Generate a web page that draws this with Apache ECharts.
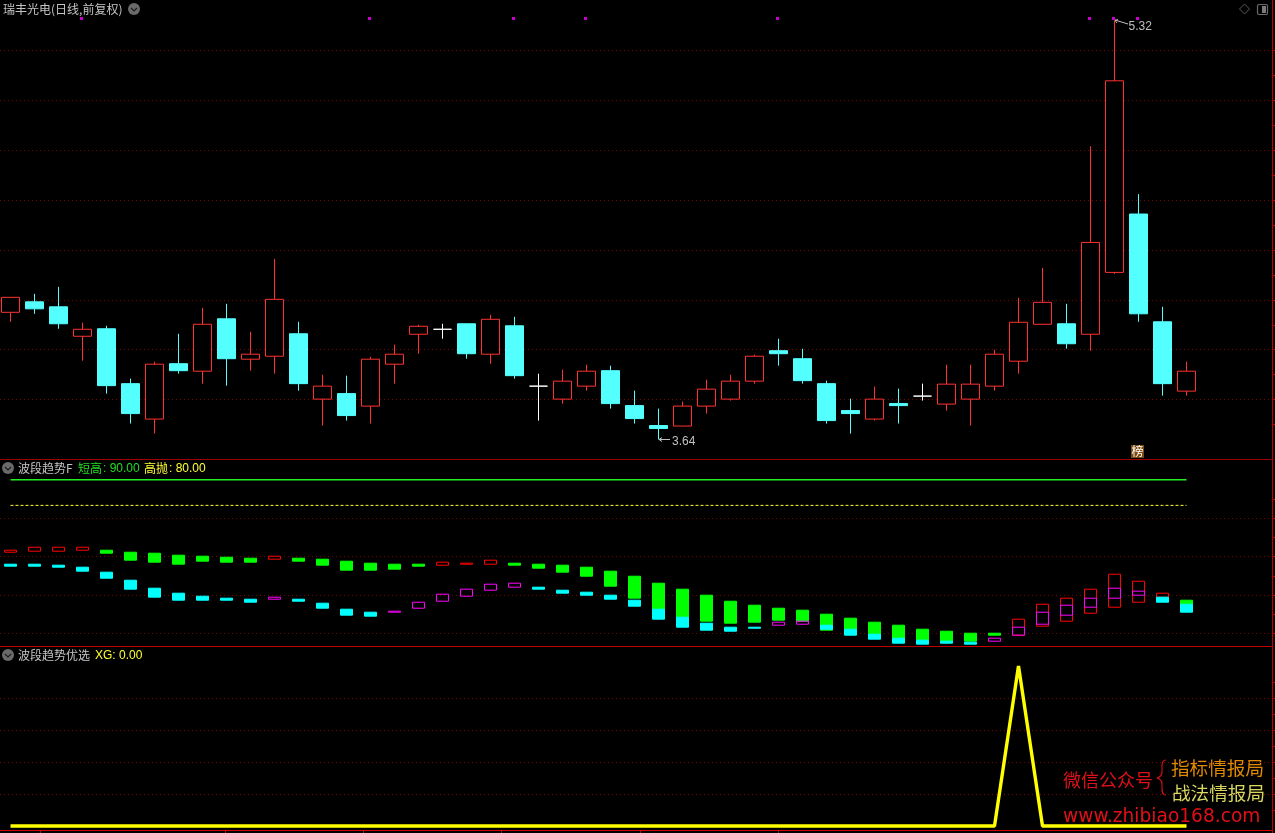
<!DOCTYPE html>
<html><head><meta charset="utf-8">
<style>html,body{margin:0;padding:0;background:#000;overflow:hidden}#c{width:1275px;height:833px}</style>
<script src="https://cdn.jsdelivr.net/npm/echarts@6/dist/echarts.min.js"></script>
</head><body><div id="c"></div>
<script>
const candleOpen=[4.150,4.192,4.172,4.054,4.084,3.864,3.722,3.944,3.914,4.124,3.962,3.974,4.064,3.802,3.824,3.774,3.942,4.062,4.082,4.104,3.982,4.096,3.854,3.802,3.854,3.916,3.776,3.696,3.694,3.774,3.802,3.874,3.996,3.964,3.864,3.756,3.722,3.784,3.814,3.782,3.802,3.854,3.954,4.102,4.104,4.062,4.310,4.544,4.112,3.834];
const candleClose=[4.210,4.164,4.104,4.082,3.856,3.744,3.942,3.916,4.102,3.964,3.982,4.202,3.864,3.854,3.736,3.962,3.982,4.094,4.082,3.984,4.122,3.896,3.854,3.874,3.914,3.784,3.724,3.684,3.774,3.842,3.874,3.974,3.984,3.876,3.716,3.744,3.802,3.776,3.814,3.862,3.862,3.982,4.110,4.190,4.024,4.430,5.078,4.144,3.864,3.914];
const candleLow=[4.112,4.144,4.084,3.956,3.824,3.704,3.664,3.904,3.864,3.856,3.916,3.904,3.836,3.696,3.716,3.704,3.864,3.984,4.044,3.964,3.944,3.884,3.716,3.784,3.836,3.764,3.704,3.640,3.694,3.744,3.796,3.864,3.936,3.864,3.704,3.664,3.716,3.704,3.796,3.756,3.696,3.836,3.904,4.102,4.004,3.996,4.304,4.112,3.816,3.816];
const candleHigh=[4.210,4.224,4.252,4.108,4.096,3.884,3.952,4.064,4.168,4.184,4.072,4.364,4.112,3.900,3.896,3.972,4.020,4.100,4.104,4.104,4.140,4.132,3.904,3.920,3.940,3.936,3.836,3.764,3.792,3.880,3.900,3.980,4.044,4.004,3.876,3.804,3.852,3.844,3.864,3.940,3.940,4.000,4.208,4.328,4.184,4.816,5.320,4.624,4.172,3.952];
const signalDays=[3,15,21,24,32,45,46,47];
const signalLevel=5.328;
const upperOpen=[61.75,62.14,62.14,62.53,62.53,61.75,61.36,60.58,60.19,59.80,59.41,59.03,59.41,59.03,58.25,57.47,57.08,57.08,56.69,57.08,57.08,57.47,57.08,56.69,55.91,54.35,52.40,49.67,47.34,45.00,42.66,41.10,39.93,39.16,37.60,36.04,34.48,33.31,31.75,30.97,30.19,30.19,29.42,32.92,34.87,37.99,40.32,42.27,44.22,43.05];
const upperClose=[62.53,63.70,63.70,63.70,61.36,58.64,57.86,57.08,58.25,57.86,57.86,60.19,58.25,56.69,54.74,54.74,55.13,56.30,57.86,57.47,58.64,56.69,55.52,53.96,52.40,48.51,43.83,39.55,36.43,34.87,34.09,34.48,35.26,34.87,31.36,31.75,29.80,28.25,27.47,27.08,27.08,29.42,35.65,41.49,43.83,47.34,53.18,50.45,45.78,39.93];
const lowerOpen=[57.08,57.08,56.69,55.91,53.96,50.84,47.73,45.78,44.61,43.83,43.44,43.44,43.44,41.88,39.55,38.38,38.38,39.93,42.66,44.61,46.95,48.12,48.12,46.95,46.17,45.00,43.05,39.55,36.43,34.09,32.53,32.53,33.31,33.70,33.31,31.75,29.80,28.25,27.47,27.08,26.69,27.08,29.42,33.70,37.21,40.32,43.83,45.00,44.22,41.49];
const lowerClose=[56.30,56.30,55.91,54.35,51.62,47.34,44.22,43.05,43.05,43.05,42.27,44.22,42.66,39.93,37.21,36.82,38.77,42.27,45.39,47.34,49.28,49.67,47.34,45.78,45.00,43.44,40.71,35.65,32.53,31.36,30.97,32.14,34.48,34.87,31.75,29.42,27.86,26.30,25.91,26.30,25.91,28.25,32.53,38.38,41.10,43.83,47.73,46.56,42.27,38.38];
const shortHigh=[90,90,90,90,90,90,90,90,90,90,90,90,90,90,90,90,90,90,90,90,90,90,90,90,90,90,90,90,90,90,90,90,90,90,90,90,90,90,90,90,90,90,90,90,90,90,90,90,90,90];
const highSell=[80,80,80,80,80,80,80,80,80,80,80,80,80,80,80,80,80,80,80,80,80,80,80,80,80,80,80,80,80,80,80,80,80,80,80,80,80,80,80,80,80,80,80,80,80,80,80,80,80,80];
const xg=[0,0,0,0,0,0,0,0,0,0,0,0,0,0,0,0,0,0,0,0,0,0,0,0,0,0,0,0,0,0,0,0,0,0,0,0,0,0,0,0,0,0,1,0,0,0,0,0,0,0];
const days=['1','2','3','4','5','6','7','8','9','10','11','12','13','14','15','16','17','18','19','20','21','22','23','24','25','26','27','28','29','30','31','32','33','34','35','36','37','38','39','40','41','42','43','44','45','46','47','48','49','50'];
const priceTicks=[5.2,5.1,5.0,4.9,4.8,4.7,4.6,4.5,4.4,4.3,4.2,4.1,4.0,3.9,3.8,3.7];
const bandTicks=[82.5,75,67.5,60,52.5,45,37.5,30];
const xgTicks=[0.9,0.8,0.7,0.6,0.5,0.4,0.3,0.2,0.1];
const timeTicks=[40,225,363,501,640,778];

const RED='#ff3232',CYAN='#54ffff',DOT='#780505',EDGE='#c00000',MARK='#e01018';
const CN='"Noto Sans CJK SC","Liberation Sans",sans-serif';
const LAT='"Liberation Sans","Noto Sans CJK SC",sans-serif';
const bandX={left:10.5,width:1176};
const frameX={left:0,width:1272};
const panels=[{top:0.5,height:449},{top:479.7,height:154},{top:666,height:160}];
const candleRows=candleOpen.map((o,i)=>[o,candleClose[i],candleLow[i],candleHigh[i]]);
const stick=(a,b)=>a.map((o,i)=>[o,b[i],Math.min(o,b[i]),Math.max(o,b[i])]);
const grids=[...panels.map(p=>({...bandX,...p})),...panels.map(p=>({...frameX,...p})),{...frameX,top:829,height:1}];
const catAxis=g=>({type:'category',gridIndex:g,data:days,boundaryGap:false,show:false});
const hiddenX=g=>({type:'value',gridIndex:g,min:0,max:1272,show:false});
const hiddenY=(g,min,max)=>({type:'value',gridIndex:g,min,max,show:false,scale:true});
const dotY=(g,min,max,interval,showMinLine)=>({type:'value',gridIndex:g,min,max,interval,position:'left',
  axisLine:{show:false,onZero:false},axisLabel:{show:false},axisTick:{show:false},
  splitLine:{show:true,showMaxLine:false,showMinLine,lineStyle:{color:DOT,width:1,type:[1,3]}}});
const tickY=(g,min,max,ticks)=>({type:'value',gridIndex:g,min,max,position:'right',
  axisLine:{show:false,onZero:false},axisLabel:{show:false},splitLine:{show:false},
  axisTick:{show:true,length:3,customValues:ticks,lineStyle:{color:EDGE,width:1}}});
const text=(t,x,y,fill,font,extra)=>({type:'text',silent:true,style:{text:t,x,y,fill,font,textVerticalAlign:'middle',...(extra||{})}});
const chevron=(cx,cy)=>[
 {type:'circle',silent:true,shape:{cx,cy,r:6},style:{fill:'#6a6a6a'}},
 {type:'polyline',silent:true,shape:{points:[[cx-3,cy-1],[cx,cy+2],[cx+3,cy-1]]},style:{stroke:'#1c1c1c',fill:null,lineWidth:1.2}}];
const line=(x1,y1,x2,y2,stroke)=>({type:'line',silent:true,shape:{x1,y1,x2,y2},style:{stroke,lineWidth:1}});
const poly=(points,stroke)=>({type:'polyline',silent:true,shape:{points},style:{stroke,fill:null,lineWidth:1}});
const curve=(x1,y1,cpx1,cpy1,cpx2,cpy2,x2,y2)=>({type:'bezierCurve',silent:true,shape:{x1,y1,cpx1,cpy1,cpx2,cpy2,x2,y2},style:{fill:null,stroke:MARK,lineWidth:1.2}});

const option={
 backgroundColor:'#000',animation:false,
 grid:grids,
 xAxis:[catAxis(0),catAxis(1),catAxis(2),hiddenX(3),hiddenX(4),hiddenX(5),
  {type:'value',gridIndex:6,min:0,max:1272,position:'bottom',axisLabel:{show:false},splitLine:{show:false},
   axisLine:{show:true,onZero:false,lineStyle:{color:'#d00000',width:1}},
   axisTick:{show:true,length:4,customValues:timeTicks,lineStyle:{color:'#d00000'}}}],
 yAxis:[hiddenY(0,3.6,5.4),hiddenY(1,30,90),hiddenY(2,0,1),
  dotY(3,3.6,5.4,0.2,false),tickY(3,3.6,5.4,priceTicks),
  dotY(4,30,90,15,true),tickY(4,30,90,bandTicks),
  dotY(5,0,1,0.2,false),tickY(5,0,1,xgTicks),
  {type:'value',gridIndex:6,min:0,max:1,show:false}],
 series:[
  {name:'K',type:'candlestick',xAxisIndex:0,yAxisIndex:0,barWidth:18,clip:false,data:candleRows,
   itemStyle:{color:'#000',color0:CYAN,borderColor:RED,borderColor0:CYAN,borderColorDoji:'#fff',borderWidth:1}},
  {name:'signal',type:'scatter',xAxisIndex:0,yAxisIndex:0,symbol:'rect',symbolSize:3,symbolOffset:[-1,0],clip:false,
   data:signalDays.map(d=>[d,signalLevel]),itemStyle:{color:'#ff00ff'}},
  {name:'upper',type:'candlestick',xAxisIndex:1,yAxisIndex:1,barWidth:12,clip:false,data:stick(upperOpen,upperClose),
   itemStyle:{color:'#000',color0:'#00ff00',borderColor:'#ff0000',borderColor0:'#00ff00',borderWidth:1}},
  {name:'lower',type:'candlestick',xAxisIndex:1,yAxisIndex:1,barWidth:12,clip:false,data:stick(lowerOpen,lowerClose),
   itemStyle:{color:'rgba(0,0,0,0)',color0:'#00ffff',borderColor:'#ff00ff',borderColor0:'#00ffff',borderWidth:1}},
  {name:'短高',type:'line',xAxisIndex:1,yAxisIndex:1,data:shortHigh,showSymbol:false,symbol:'none',lineStyle:{color:'#22ee22',width:1.4}},
  {name:'高抛',type:'line',xAxisIndex:1,yAxisIndex:1,data:highSell,showSymbol:false,symbol:'none',lineStyle:{color:'#ffff33',width:1,type:[3,2]}},
  {name:'XG',type:'line',xAxisIndex:2,yAxisIndex:2,data:xg,showSymbol:false,symbol:'none',clip:false,lineStyle:{color:'#ffff00',width:3.4,join:'bevel'}}
 ],
 graphic:{elements:[
  line(0,459.5,1272,459.5,'#a00000'),line(0,646.5,1272,646.5,EDGE),line(1272.5,0,1272.5,833,EDGE),
  text('瑞丰光电(日线,前复权)',3,9.5,'#c4c4c4','12px '+CN),...chevron(134,9),
  {type:'polygon',silent:true,shape:{points:[[1244.5,4],[1249.5,9],[1244.5,14],[1239.5,9]]},style:{fill:null,stroke:'#5a5a5a',lineWidth:1}},
  {type:'rect',silent:true,shape:{x:1257.5,y:4.5,width:10,height:10,r:1.5},style:{fill:null,stroke:'#6a6a6a',lineWidth:1.2}},
  {type:'rect',silent:true,shape:{x:1262,y:6,width:4,height:7},style:{fill:'#7a7a7a'}},
  poly([[1115,20],[1128,24]],'#c0c0c0'),poly([[1118,19.5],[1115,20.5],[1117,23]],'#c0c0c0'),
  text('5.32',1128.5,26.5,'#c0c0c0','12px '+LAT),
  poly([[659,439.5],[670,439.5]],'#c0c0c0'),poly([[662,437.5],[659,439.5],[662,441.5]],'#c0c0c0'),
  text('3.64',672,441.5,'#c0c0c0','12px '+LAT),
  {type:'rect',silent:true,shape:{x:1131,y:445,width:13,height:13},style:{fill:'#7c4a10'}},
  text('榜',1131.5,451.5,'#ffffff','12px '+CN),
  ...chevron(8,468),
  text('波段趋势F',18,468,'#c4c4c4','12px '+CN),
  text('短高',78,468,'#22dd22','12px '+CN),text(': 90.00',103,468.5,'#22dd22','12px '+LAT),
  text('高抛',144,468,'#ffff33','12px '+CN),text(': 80.00',169,468.5,'#ffff33','12px '+LAT),
  ...chevron(8,655),
  text('波段趋势优选',18,655,'#c4c4c4','12px '+CN),
  text('XG: 0.00',95,655.5,'#ffff33','12px '+LAT),
  text('微信公众号',1063,780,MARK,'18px '+CN),
  curve(1166,760,1163,760,1162,762,1162,766),line(1162,766,1162,772,MARK),curve(1162,772,1162,775,1160,777,1157,778),
  curve(1157,778,1160,779,1162,781,1162,784),line(1162,784,1162,789,MARK),curve(1162,789,1162,793,1163,795,1166,795),
  text('指标情报局',1171,768,'#e08a00','18.6px '+CN),
  text('战法情报局',1172,793,'#d8d860','18.6px '+CN),
  text('www.zhibiao168.com',1063,817,MARK,'18.6px "DejaVu Sans"')
 ]}
};
const chart=echarts.init(document.getElementById('c'),null,{renderer:'canvas',width:1275,height:833});
chart.setOption(option);
</script></body></html>
